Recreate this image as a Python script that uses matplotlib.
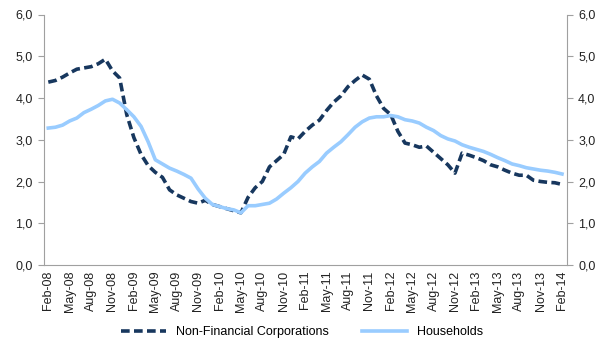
import matplotlib
matplotlib.use("Agg")
import matplotlib.pyplot as plt
import numpy as np

plt.rcParams['font.family'] = ['Liberation Sans', 'DejaVu Sans']

# monthly rates, Feb-08 .. Feb-14
months = ["Feb", "Mar", "Apr", "May", "Jun", "Jul", "Aug", "Sep", "Oct", "Nov", "Dec", "Jan"]
labels = []
for k in range(73):
    m = months[k % 12]
    yr = 8 + (k + 1) // 12
    labels.append(f"{m}-{yr:02d}")

nfc = [4.38, 4.42, 4.50, 4.60, 4.69, 4.72, 4.75, 4.82, 4.93, 4.65, 4.48, 3.60,
       3.05, 2.65, 2.38, 2.22, 2.10, 1.80, 1.68, 1.60, 1.52, 1.48, 1.55, 1.45,
       1.40, 1.35, 1.30, 1.25, 1.62, 1.85, 2.00, 2.35, 2.50, 2.65, 3.07, 3.02,
       3.20, 3.35, 3.47, 3.70, 3.90, 4.05, 4.27, 4.42, 4.55, 4.45, 4.05, 3.75,
       3.60, 3.20, 2.92, 2.88, 2.82, 2.85, 2.70, 2.55, 2.40, 2.20, 2.68, 2.63,
       2.57, 2.50, 2.40, 2.35, 2.27, 2.20, 2.15, 2.15, 2.03, 2.00, 1.98, 1.97,
       1.93]
households = [3.28, 3.30, 3.35, 3.45, 3.52, 3.65, 3.73, 3.82, 3.93, 3.97, 3.88, 3.72,
              3.55, 3.32, 2.95, 2.52, 2.42, 2.32, 2.25, 2.17, 2.08, 1.82, 1.60, 1.45,
              1.40, 1.35, 1.32, 1.25, 1.42, 1.42, 1.45, 1.48, 1.58, 1.72, 1.85, 2.00,
              2.20, 2.35, 2.48, 2.68, 2.82, 2.95, 3.12, 3.30, 3.43, 3.52, 3.55, 3.55,
              3.58, 3.55, 3.48, 3.45, 3.40, 3.30, 3.22, 3.10, 3.02, 2.97, 2.88, 2.82,
              2.77, 2.72, 2.65, 2.57, 2.50, 2.42, 2.38, 2.33, 2.30, 2.27, 2.25, 2.22,
              2.18]

x = np.arange(len(labels))

fig = plt.figure(figsize=(6.04, 3.49), dpi=100)
ax = fig.add_axes([44 / 604, 84 / 349, (567 - 44) / 604, (265 - 14.5) / 349])

ax.plot(x, nfc, color='#17375E', lw=2.6, dashes=(2.4, 1.2), label='Non-Financial Corporations')
ax.plot(x, households, color='#99CCFF', lw=2.6, label='Households')

ax.set_xlim(-0.6, 72.7)
ax.set_ylim(0, 6)
ax.set_yticks(np.arange(0, 6.1, 1))
ax.set_yticklabels([f"{v:.1f}".replace('.', ',') for v in np.arange(0, 6.1, 1)])
ax.set_xticks(x[::3])
ax.set_xticklabels(labels[::3], rotation=90)

for s in ['left', 'right', 'bottom']:
    ax.spines[s].set_color('#A0A0A0')
ax.spines['top'].set_visible(False)
ax.tick_params(axis='y', right=True, labelright=True, direction='out', length=4,
               color='#A0A0A0', labelsize=9, labelcolor='#222222', pad=4)
ax.tick_params(axis='x', direction='out', length=0, labelsize=9,
               labelcolor='#222222', pad=4)

fig.legend(loc='center', bbox_to_anchor=(0.5, 17 / 349), ncol=2,
           frameon=False, fontsize=9, handlelength=3.6, columnspacing=2.6)

fig.savefig('out.png', dpi=100)
